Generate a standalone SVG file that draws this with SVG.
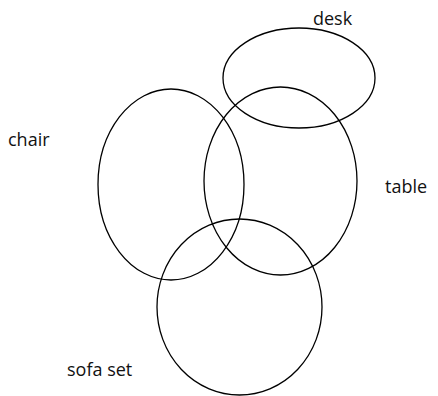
<svg xmlns="http://www.w3.org/2000/svg" width="438" height="396" viewBox="0 0 438 396">
<style>
.e{fill:none;stroke:#000;stroke-width:1.3}
.t{font-family:"Open Sans","Liberation Sans",sans-serif;font-size:18px;fill:#111}
</style>
<rect width="438" height="396" fill="#fff"/>
<g id="desk"><ellipse class="e" cx="299" cy="78" rx="76" ry="50"/><text class="t" x="313" y="25">desk</text></g>
<g id="chair"><ellipse class="e" cx="171" cy="184.5" rx="73" ry="95.5"/><text class="t" x="8" y="146">chair</text></g>
<g id="table"><ellipse class="e" cx="280.5" cy="181" rx="76.5" ry="94"/><text class="t" x="385" y="193">table</text></g>
<g id="sofa"><ellipse class="e" cx="239.5" cy="307" rx="82.5" ry="88"/><text class="t" x="67" y="376">sofa set</text></g>
<g id="connectors"/>
</svg>
